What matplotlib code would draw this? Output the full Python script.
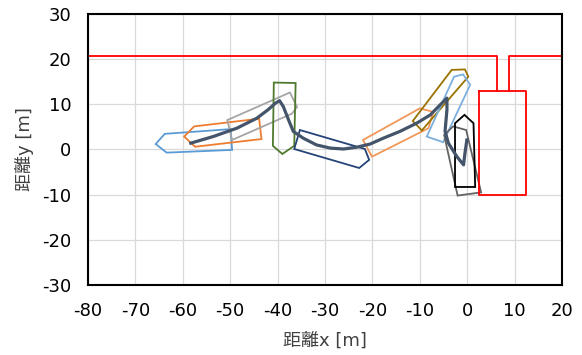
import matplotlib
matplotlib.use("Agg")
import matplotlib.pyplot as plt
import numpy as np

plt.rcParams['font.family'] = ['DejaVu Sans', 'Noto Sans CJK JP']
plt.rcParams['axes.unicode_minus'] = False

# red boundary line (quay / berth) and rectangle
wall_x = [-80, 6.3, 6.3]
wall_y = [20.7, 20.7, 13.0]
wall2_x = [8.8, 8.8, 20]
wall2_y = [13.0, 20.7, 20.7]
berth_x = [2.4, 12.4, 12.4, 2.4, 2.4]
berth_y = [13.0, 13.0, -10.0, -10.0, 13.0]

# ship outlines (x list, y list, colour)
ship_blue_x = [-65.7, -63.8, -49.9, -49.6, -63.4]
ship_blue_y = [1.2, 3.45, 4.5, -0.1, -0.7]
ship_orange_x = [-59.7, -57.6, -43.9, -43.4, -57.4]
ship_orange_y = [2.85, 5.1, 6.8, 2.3, 0.6]
ship_gray_x = [-50.6, -37.4, -35.9, -37.0, -49.6]
ship_gray_y = [6.5, 12.6, 9.4, 7.9, 2.1]
ship_green_x = [-40.8, -36.2, -36.5, -39.0, -41.0]
ship_green_y = [14.8, 14.7, 0.8, -1.0, 0.8]
ship_navy_x = [-35.3, -36.5, -22.8, -20.7, -21.6]
ship_navy_y = [4.3, 0.1, -4.1, -2.3, 0.1]
ship_orange2_x = [-22.0, -20.1, -8.2, -7.2, -10.0]
ship_orange2_y = [2.1, -1.6, 4.7, 8.3, 9.1]
ship_gold_x = [-11.5, -3.3, -0.5, 0.2, -9.6]
ship_gold_y = [6.3, 17.6, 17.7, 16.1, 4.2]
ship_lblue_x = [-8.55, -2.8, -0.9, 0.6, -5.1]
ship_lblue_y = [2.85, 16.1, 16.6, 14.3, 1.6]
ship_black_x = [-0.6, 1.3, 1.65, -2.6, -2.6]
ship_black_y = [7.65, 5.8, -8.3, -8.3, 5.8]
ship_dgray_x = [-3.0, -0.25, 2.9, -2.05, -4.9]
ship_dgray_y = [5.1, 4.3, -9.5, -10.2, 3.2]

ships = [
    (ship_blue_x, ship_blue_y, '#5B9BD5'),
    (ship_orange_x, ship_orange_y, '#ED7D31'),
    (ship_gray_x, ship_gray_y, '#A5A5A5'),
    (ship_green_x, ship_green_y, '#4E7A2E'),
    (ship_navy_x, ship_navy_y, '#264478'),
    (ship_orange2_x, ship_orange2_y, '#F1975A'),
    (ship_gold_x, ship_gold_y, '#997300'),
    (ship_lblue_x, ship_lblue_y, '#7CAFDD'),
    (ship_dgray_x, ship_dgray_y, '#636363'),
    (ship_black_x, ship_black_y, '#000000'),
]

# trajectory of the ship centre
track_x = [-58.3, -53.6, -48.6, -44.4, -42.0, -40.5, -39.6, -38.8, -37.7, -36.7,
           -34.6, -31.8, -28.9, -26.1, -23.3, -20.5, -17.7, -14.2, -10.7, -7.8,
           -5.7, -4.3, -4.3, -4.7, -4.0, -2.2, -0.8, -0.5, -0.1]
track_y = [1.4, 2.85, 4.7, 6.9, 8.8, 10.2, 10.8, 9.5, 6.55, 4.0,
           2.5, 1.0, 0.3, 0.1, 0.5, 1.2, 2.5, 4.0, 5.8, 7.65,
           9.9, 11.35, 8.8, 4.0, 1.4, -1.6, -3.4, -0.8, 2.1]

xticks = np.arange(-80, 21, 10)
yticks = np.arange(-30, 31, 10)

fig = plt.figure(figsize=(5.82, 3.55), dpi=100)
ax = fig.add_axes([0.151, 0.197, 0.815, 0.764])

ax.plot(wall_x, wall_y, color='#FF0000', lw=1.3)
ax.plot(wall2_x, wall2_y, color='#FF0000', lw=1.3)
ax.plot(berth_x, berth_y, color='#FF0000', lw=1.3)

for sx, sy, c in ships:
    ax.fill(sx, sy, facecolor='none', edgecolor=c, lw=1.3)

ax.plot(track_x, track_y, color='#44546A', lw=2.3, solid_joinstyle='round')

ax.set_xlim(-80, 20)
ax.set_ylim(-30, 30)
ax.set_xticks(xticks)
ax.set_yticks(yticks)
ax.grid(True, color='#D9D9D9', lw=0.9)
ax.set_axisbelow(True)
ax.tick_params(axis='x', length=0, labelsize=13, pad=12)
ax.tick_params(axis='y', length=0, labelsize=13, pad=12)
for s in ax.spines.values():
    s.set_linewidth(1.5)
    s.set_color('black')

ax.set_xlabel('距離x [m]', fontsize=13, labelpad=9, color='#404040')
ax.set_ylabel('距離y [m]', fontsize=13, labelpad=6, color='#404040')

fig.savefig('out.png', dpi=100)
